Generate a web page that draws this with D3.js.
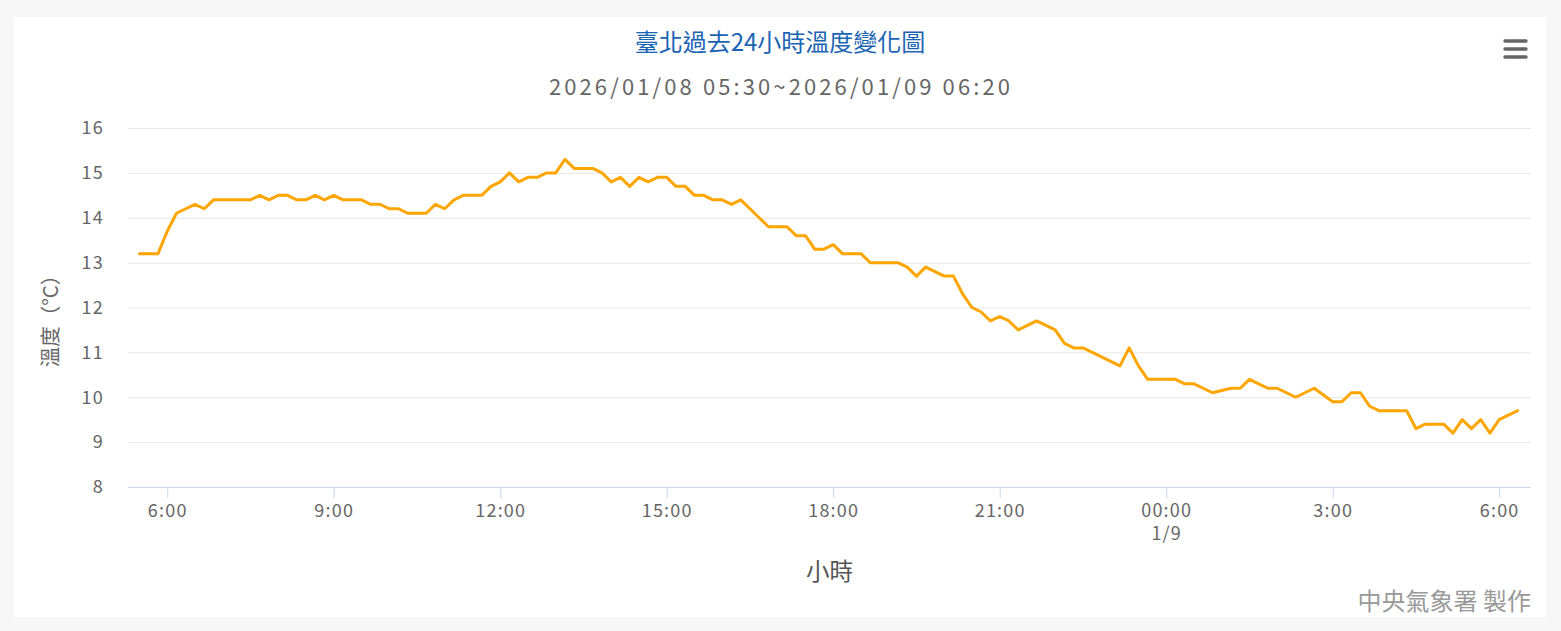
<!DOCTYPE html>
<html>
<head>
<meta charset="utf-8">
<script src="https://cdn.jsdelivr.net/npm/d3@7"></script>
<style>
  html, body { margin: 0; padding: 0; background: #f7f7f7; }
  svg { display: block; }
  text { font-family: "Noto Sans CJK TC", "Noto Sans", sans-serif; }
</style>
</head>
<body>
<svg id="chart" width="1561" height="631"></svg>
<script>
// observations: every 10 minutes from 2026/01/08 05:30 to 2026/01/09 06:20
var obsStart = new Date(2026, 0, 8, 5, 30);
var obsStepMin = 10;
var temps = [
    13.2, 13.2, 13.2,
    13.7, 14.1, 14.2, 14.3, 14.2, 14.4,   // 06
    14.4, 14.4, 14.4, 14.4, 14.5, 14.4,   // 07
    14.5, 14.5, 14.4, 14.4, 14.5, 14.4,   // 08
    14.5, 14.4, 14.4, 14.4, 14.3, 14.3,   // 09
    14.2, 14.2, 14.1, 14.1, 14.1, 14.3,   // 10
    14.2, 14.4, 14.5, 14.5, 14.5, 14.7,   // 11
    14.8, 15.0, 14.8, 14.9, 14.9, 15.0,   // 12
    15.0, 15.3, 15.1, 15.1, 15.1, 15.0,   // 13
    14.8, 14.9, 14.7, 14.9, 14.8, 14.9,   // 14
    14.9, 14.7, 14.7, 14.5, 14.5, 14.4,   // 15
    14.4, 14.3, 14.4, 14.2, 14.0, 13.8,   // 16
    13.8, 13.8, 13.6, 13.6, 13.3, 13.3,   // 17
    13.4, 13.2, 13.2, 13.2, 13.0, 13.0,   // 18
    13.0, 13.0, 12.9, 12.7, 12.9, 12.8,   // 19
    12.7, 12.7, 12.3, 12.0, 11.9, 11.7,   // 20
    11.8, 11.7, 11.5, 11.6, 11.7, 11.6,   // 21
    11.5, 11.2, 11.1, 11.1, 11.0, 10.9,   // 22
    10.8, 10.7, 11.1, 10.7, 10.4, 10.4,   // 23
    10.4, 10.4, 10.3, 10.3, 10.2, 10.1,   // 00
    10.15, 10.2, 10.2, 10.4, 10.3, 10.2,  // 01
    10.2, 10.1, 10.0, 10.1, 10.2, 10.05,  // 02
    9.9, 9.9, 10.1, 10.1, 9.8, 9.7,       // 03
    9.7, 9.7, 9.7, 9.3, 9.4, 9.4,         // 04
    9.4, 9.2, 9.5, 9.3, 9.5, 9.2,         // 05
    9.5, 9.6, 9.7                         // 06
];

var xTickTimes = [
    new Date(2026, 0, 8, 6), new Date(2026, 0, 8, 9), new Date(2026, 0, 8, 12),
    new Date(2026, 0, 8, 15), new Date(2026, 0, 8, 18), new Date(2026, 0, 8, 21),
    new Date(2026, 0, 9, 0), new Date(2026, 0, 9, 3), new Date(2026, 0, 9, 6)
];
var xTickLabels = ["6:00", "9:00", "12:00", "15:00", "18:00", "21:00", "00:00", "3:00", "6:00"];
var xTickSubLabels = ["", "", "", "", "", "", "1/9", "", ""];
var yTicks = [8, 9, 10, 11, 12, 13, 14, 15, 16];

var titleText = "臺北過去24小時溫度變化圖";
var subtitleText = "2026/01/08 05:30~2026/01/09 06:20";
var yTitle = "溫度（°C）";
var xTitle = "小時";
var creditText = "中央氣象署 製作";

var data = temps.map(function (v, i) {
    return { t: d3.timeMinute.offset(obsStart, i * obsStepMin), v: v };
});

var svg = d3.select("#chart");
var plot = { left: 128, right: 1531, top: 128, bottom: 487 };

// white panel
svg.append("rect")
    .attr("x", 14).attr("y", 17)
    .attr("width", 1532).attr("height", 600)
    .attr("fill", "#fff");

// a little padding on both ends like the original
var x = d3.scaleTime()
    .domain([d3.timeSecond.offset(data[0].t, -746), d3.timeSecond.offset(data[data.length - 1].t, 864)])
    .range([plot.left, plot.right]);

var y = d3.scaleLinear()
    .domain([8, 16])
    .range([plot.bottom, plot.top]);

// grid + y labels
var yAxis = svg.append("g")
    .attr("transform", "translate(" + plot.left + ",0)")
    .call(d3.axisLeft(y).tickValues(yTicks).tickSize(-(plot.right - plot.left)).tickPadding(24));
yAxis.select(".domain").remove();
yAxis.selectAll(".tick line").attr("stroke", "#e6e6e6");
yAxis.selectAll(".tick text")
    .attr("fill", "#666")
    .attr("font-size", 18)
    .attr("letter-spacing", 1.2)
    .attr("font-family", null);

// x axis
var xAxis = svg.append("g")
    .attr("transform", "translate(0," + plot.bottom + ")")
    .call(d3.axisBottom(x).tickValues(xTickTimes).tickSize(11).tickPadding(6)
        .tickFormat(function (d, i) { return xTickLabels[i]; }));
xAxis.select(".domain").attr("stroke", "#ccd6eb").attr("d", "M" + plot.left + ",0.5H" + plot.right);
xAxis.selectAll(".tick line").attr("stroke", "#ccd6eb");
xAxis.selectAll(".tick text")
    .attr("fill", "#666")
    .attr("font-size", 18)
    .attr("letter-spacing", 1.2)
    .attr("font-family", null)
    .each(function (d, i) {
        if (xTickSubLabels[i]) {
            d3.select(this).append("tspan")
                .attr("x", 0).attr("dy", "1.3em")
                .text(xTickSubLabels[i]);
        }
    });

// temperature line
var line = d3.line()
    .x(function (d) { return x(d.t); })
    .y(function (d) { return y(d.v); });

svg.append("path")
    .datum(data)
    .attr("d", line)
    .attr("fill", "none")
    .attr("stroke", "#ffa500")
    .attr("stroke-width", 3)
    .attr("stroke-linejoin", "round")
    .attr("stroke-linecap", "round");

// titles
svg.append("text")
    .attr("x", 780).attr("y", 51)
    .attr("text-anchor", "middle")
    .attr("fill", "#1a64b4")
    .attr("font-size", 24)
    .text(titleText);

svg.append("text")
    .attr("x", 781).attr("y", 95)
    .attr("text-anchor", "middle")
    .attr("fill", "#666")
    .attr("font-size", 22)
    .attr("letter-spacing", 3.1)
    .text(subtitleText);

svg.append("text")
    .attr("transform", "translate(58,316) rotate(-90)")
    .attr("text-anchor", "middle")
    .attr("fill", "#666")
    .attr("font-size", 20.5)
    .text(yTitle);

svg.append("text")
    .attr("x", (plot.left + plot.right) / 2).attr("y", 580)
    .attr("text-anchor", "middle")
    .attr("fill", "#555")
    .attr("font-size", 23.5)
    .text(xTitle);

svg.append("text")
    .attr("x", 1531).attr("y", 610)
    .attr("text-anchor", "end")
    .attr("fill", "#999")
    .attr("font-size", 24)
    .text(creditText);

// context menu icon
svg.append("g")
    .selectAll("line")
    .data([41, 49, 57])
    .enter().append("line")
    .attr("x1", 1505).attr("x2", 1526)
    .attr("y1", function (d) { return d; }).attr("y2", function (d) { return d; })
    .attr("stroke", "#666")
    .attr("stroke-width", 3.4)
    .attr("stroke-linecap", "round");
</script>
</body>
</html>
